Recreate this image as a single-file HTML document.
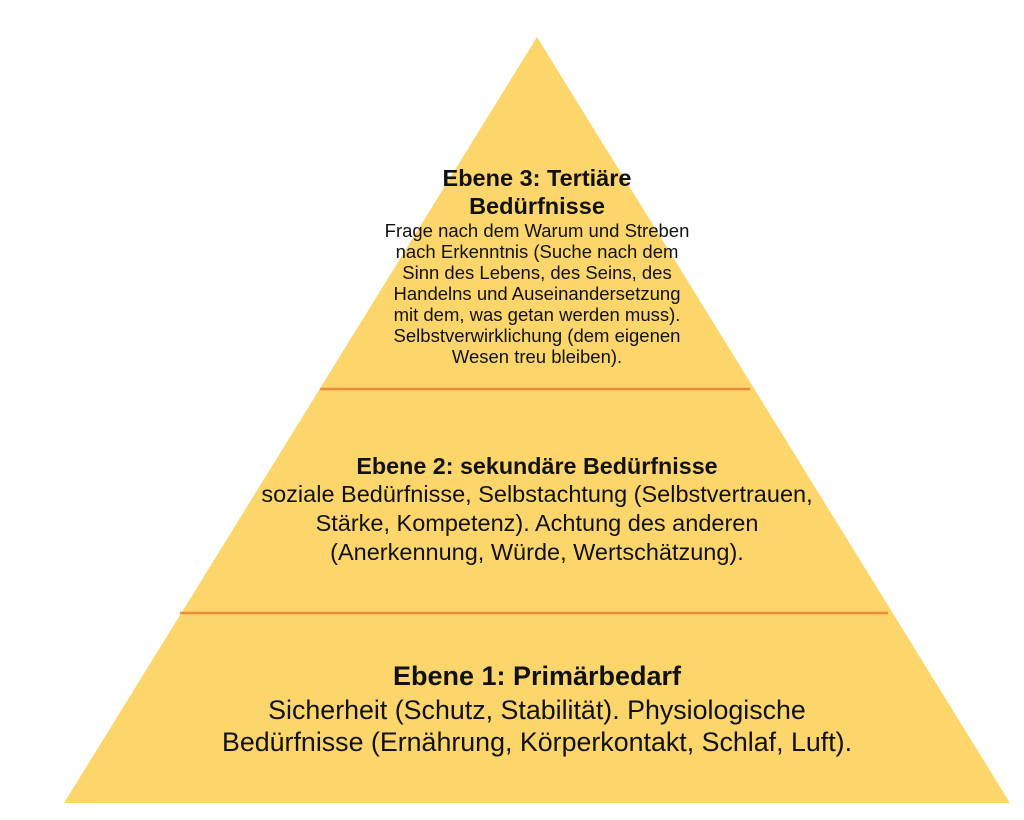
<!DOCTYPE html>
<html><head><meta charset="utf-8"><style>
html,body{margin:0;padding:0;background:#fff;}
body{width:1024px;height:820px;position:relative;overflow:hidden;font-family:"Liberation Sans",Arial,sans-serif;color:#111;}
.t{position:absolute;left:0;width:1074px;text-align:center;white-space:nowrap;}
</style></head><body>
<svg width="1024" height="820" style="position:absolute;left:0;top:0">
<polygon points="537,37 64,803 1010,803" fill="#FCD66B"/>
<line x1="320" y1="389" x2="750" y2="389" stroke="#EE8A3C" stroke-width="2.5"/>
<line x1="180" y1="613" x2="888" y2="613" stroke="#EE8A3C" stroke-width="2.5"/>
</svg>
<div class="t" style="top:164px;font-weight:bold;font-size:23.5px;line-height:28px;">Ebene 3: Tertiäre<br>Bedürfnisse</div>
<div class="t" style="top:220px;font-size:18.5px;line-height:21px;">Frage nach dem Warum und Streben<br>nach Erkenntnis (Suche nach dem<br>Sinn des Lebens, des Seins, des<br>Handelns und Auseinandersetzung<br>mit dem, was getan werden muss).<br>Selbstverwirklichung (dem eigenen<br>Wesen treu bleiben).</div>
<div class="t" style="top:453px;font-weight:bold;font-size:23.3px;line-height:27px;">Ebene 2: sekundäre Bedürfnisse</div>
<div class="t" style="top:480px;font-size:23.5px;line-height:29px;">soziale Bedürfnisse, Selbstachtung (Selbstvertrauen,<br>Stärke, Kompetenz). Achtung des anderen<br>(Anerkennung, Würde, Wertschätzung).</div>
<div class="t" style="top:659px;font-weight:bold;font-size:27px;line-height:34px;">Ebene 1: Primärbedarf</div>
<div class="t" style="top:694px;font-size:26.8px;line-height:32px;">Sicherheit (Schutz, Stabilität). Physiologische<br>Bedürfnisse (Ernährung, Körperkontakt, Schlaf, Luft).</div>
</body></html>
